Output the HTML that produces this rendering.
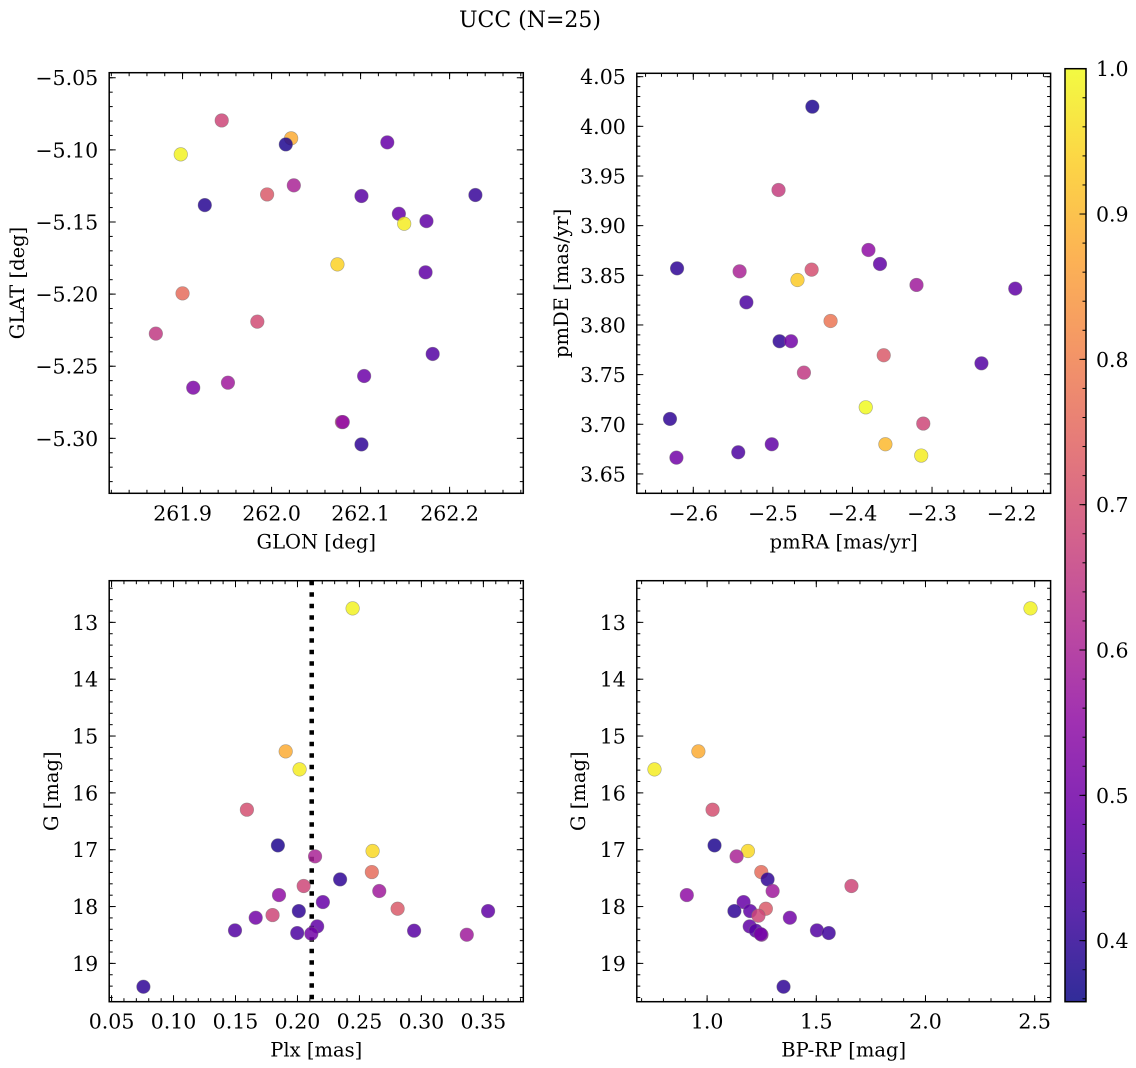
<!DOCTYPE html>
<html><head><meta charset="utf-8"><title>UCC (N=25)</title>
<style>
html,body{margin:0;padding:0;background:#fff;}
svg{display:block;font-family:"DejaVu Serif","Liberation Serif",serif;}
</style></head>
<body>
<svg id="fig" xmlns="http://www.w3.org/2000/svg" width="1136" height="1068" viewBox="0 0 1136 1068">
<rect x="0" y="0" width="1136" height="1068" fill="#fff"/>
<text x="530" y="27" text-anchor="middle" font-size="22">UCC (N=25)</text>
<defs>
<linearGradient id="plasmaGrad" x1="0" y1="1" x2="0" y2="0">
<stop offset="0" stop-color="#0d0887"/><stop offset="0.1" stop-color="#41049d"/><stop offset="0.2" stop-color="#6a00a8"/><stop offset="0.3" stop-color="#8f0da4"/><stop offset="0.4" stop-color="#b12a90"/><stop offset="0.5" stop-color="#cc4778"/><stop offset="0.6" stop-color="#e16462"/><stop offset="0.7" stop-color="#f2844b"/><stop offset="0.8" stop-color="#fca636"/><stop offset="0.9" stop-color="#fcce25"/><stop offset="1" stop-color="#f0f921"/>
</linearGradient>
</defs>
</svg>
<script>
// ---- Panel 1: GLON / GLAT ----
const glon=[261.944,262.022,262.016,261.898,262.130,262.025,261.995,261.925,262.101,262.229,262.143,262.149,262.174,262.074,262.173,261.900,261.984,261.870,262.181,262.104,261.912,261.951,262.079,262.080,262.101];
const glat=[-5.0796,-5.092,-5.0962,-5.1031,-5.0948,-5.1246,-5.1309,-5.1383,-5.132,-5.1313,-5.1443,-5.1512,-5.1494,-5.1794,-5.1849,-5.1995,-5.2191,-5.2274,-5.2415,-5.2568,-5.2649,-5.2614,-5.2887,-5.2887,-5.3042];
const prob1=[0.68,0.88,0.38,0.99,0.48,0.60,0.72,0.39,0.46,0.41,0.48,0.98,0.47,0.94,0.47,0.76,0.69,0.65,0.45,0.49,0.52,0.58,0.67,0.55,0.40];
// ---- Panel 2: pmRA / pmDE ----
const pmra=[-2.4504,-2.4929,-2.3799,-2.3654,-2.6204,-2.5418,-2.4513,-2.4691,-2.3195,-2.1954,-2.5333,-2.4275,-2.4916,-2.4772,-2.3607,-2.4610,-2.2379,-2.3833,-2.6293,-2.3110,-2.5014,-2.3586,-2.5435,-2.6212,-2.3136];
const pmde=[4.0198,3.9359,3.8755,3.8614,3.8570,3.8540,3.8557,3.8453,3.8403,3.8366,3.8228,3.8040,3.7836,3.7836,3.7695,3.7520,3.7614,3.7171,3.7054,3.7007,3.6799,3.6799,3.6718,3.6664,3.6685];
const prob2=[0.38,0.66,0.55,0.47,0.40,0.60,0.70,0.93,0.58,0.47,0.44,0.78,0.40,0.50,0.72,0.65,0.45,1.00,0.40,0.68,0.47,0.90,0.44,0.50,0.98];
// ---- Panel 3: Plx / G ----
const plx=[0.2445,0.1905,0.2017,0.1592,0.1842,0.2606,0.2142,0.2600,0.2344,0.2050,0.2660,0.1851,0.2205,0.2808,0.2011,0.3538,0.1799,0.1663,0.2159,0.1496,0.2941,0.1998,0.2112,0.3366,0.0757];
const gmag3=[12.754,15.270,15.587,16.296,16.924,17.023,17.117,17.393,17.522,17.639,17.727,17.798,17.921,18.038,18.079,18.079,18.150,18.197,18.349,18.419,18.425,18.466,18.478,18.496,19.411];
const prob3=[0.99,0.88,0.98,0.70,0.38,0.95,0.60,0.76,0.40,0.68,0.58,0.55,0.48,0.72,0.40,0.47,0.68,0.50,0.47,0.45,0.46,0.44,0.50,0.58,0.40];
const plxMean=[0.2115];
// ---- Panel 4: BP-RP / G ----
const bprp=[2.481,0.960,0.759,1.025,1.034,1.187,1.135,1.248,1.277,1.661,1.300,0.907,1.167,1.269,1.125,1.197,1.235,1.379,1.195,1.503,1.557,1.223,1.249,1.245,1.350];
const gmag4=[12.754,15.270,15.587,16.296,16.924,17.023,17.117,17.393,17.522,17.639,17.727,17.798,17.921,18.038,18.079,18.079,18.161,18.197,18.349,18.419,18.466,18.425,18.496,18.484,19.411];
const prob4=[0.99,0.88,0.98,0.70,0.38,0.95,0.60,0.76,0.40,0.68,0.58,0.55,0.48,0.72,0.40,0.47,0.68,0.50,0.47,0.45,0.42,0.45,0.55,0.50,0.40];
// ---- Colorbar ----
const cbTicks=[0.4,0.5,0.6,0.7,0.8,0.9,1.0];
const cbRange=[0.358,1.0];

const NS="http://www.w3.org/2000/svg";
const svg=document.getElementById('fig');
const plasma=["#0d0887","#41049d","#6a00a8","#8f0da4","#b12a90","#cc4778","#e16462","#f2844b","#fca636","#fcce25","#f0f921"];
function hex(h){return [parseInt(h.slice(1,3),16),parseInt(h.slice(3,5),16),parseInt(h.slice(5,7),16)];}
function cmap(p){
  let t=(p-cbRange[0])/(cbRange[1]-cbRange[0]);t=Math.max(0,Math.min(1,t));
  const f=t*10,i=Math.min(9,Math.floor(f)),r=f-i;
  const a=hex(plasma[i]),b=hex(plasma[i+1]);
  return 'rgb('+a.map((v,k)=>Math.round(v+(b[k]-v)*r)).join(',')+')';
}
function el(tag,attrs,parent){const e=document.createElementNS(NS,tag);for(const k in attrs)e.setAttribute(k,attrs[k]);(parent||svg).appendChild(e);return e;}
function fmt(v,d){const s=Math.abs(v).toFixed(d);return (v<-1e-9?'\u2212':'')+s;}
function ticks(lo,hi,step){const out=[];const a=Math.ceil(lo/step-1e-6),b=Math.floor(hi/step+1e-6);for(let k=a;k<=b;k++)out.push(+(k*step).toFixed(6));return out;}

const TFS=20.5, LFS=19.5;
function panel(o){
  const g=el('g',{});
  
  
  const B=o.box;
  const sx=v=>B.x+(v-o.xr[0])/(o.xr[1]-o.xr[0])*B.w;
  const sy=v=>B.y+(o.yr[1]-v)/(o.yr[1]-o.yr[0])*B.h;
  const tg=el('g',{stroke:'#000','stroke-width':1},g);
  
  
  ticks(o.xr[0],o.xr[1],o.xMin).forEach(v=>{const x=sx(v);el('line',{x1:x,x2:x,y1:B.y+B.h,y2:B.y+B.h-3.5},tg);el('line',{x1:x,x2:x,y1:B.y,y2:B.y+3.5},tg);});
  ticks(Math.min(o.yr[0],o.yr[1]),Math.max(o.yr[0],o.yr[1]),o.yMin).forEach(v=>{const y=sy(v);el('line',{x1:B.x,x2:B.x+3.5,y1:y,y2:y},tg);el('line',{x1:B.x+B.w,x2:B.x+B.w-3.5,y1:y,y2:y},tg);});
  ticks(o.xr[0],o.xr[1],o.xMaj).forEach(v=>{const x=sx(v);el('line',{x1:x,x2:x,y1:B.y+B.h,y2:B.y+B.h-6.5},tg);el('line',{x1:x,x2:x,y1:B.y,y2:B.y+6.5},tg);
    const t=el('text',{x:x,y:B.y+B.h+27,'text-anchor':'middle','font-size':TFS,stroke:'none'},g);t.textContent=fmt(v,o.xd);
    
    });
  ticks(Math.min(o.yr[0],o.yr[1]),Math.max(o.yr[0],o.yr[1]),o.yMaj).forEach(v=>{const y=sy(v);el('line',{x1:B.x,x2:B.x+6.5,y1:y,y2:y},tg);el('line',{x1:B.x+B.w,x2:B.x+B.w-6.5,y1:y,y2:y},tg);
    const t=el('text',{x:B.x-11,y:y+7.5,'text-anchor':'end','font-size':TFS},g);t.textContent=fmt(v,o.yd);
    
    });
  if(o.vline){o.vline.forEach(v=>{const l=el('line',{x1:sx(v),x2:sx(v),y1:B.y,y2:B.y+B.h,stroke:'#000','stroke-width':4.5,'stroke-dasharray':'4.5 7'},g);
    
    });}
  o.xs.forEach((xv,i)=>{const c=el('circle',{cx:sx(xv),cy:sy(o.ys[i]),r:6.8,fill:cmap(o.ps[i]),'fill-opacity':0.85,stroke:'#777','stroke-opacity':0.6,'stroke-width':0.6},g);
    
    });
  const fr=el('rect',{x:B.x,y:B.y,width:B.w,height:B.h,fill:'none',stroke:'#000','stroke-width':1.5},g);
  
  
  const xl=el('text',{x:B.x+B.w/2,y:B.y+B.h+55,'text-anchor':'middle','font-size':LFS},g);xl.textContent=o.xlabel;
  
  
  const cy=B.y+B.h/2;
  const yl=el('text',{x:o.ylx,y:cy,'text-anchor':'middle','font-size':LFS,transform:'rotate(-90 '+o.ylx+' '+cy+')'},g);yl.textContent=o.ylabel;
  
  
}

panel({name:'glon-glat-panel',box:{x:109.2,y:72.7,w:414.1,h:420.6},xr:[261.8176,262.2828],yr:[-5.3381,-5.0465],xMaj:0.1,xMin:0.02,yMaj:0.05,yMin:0.01,xd:1,yd:2,xs:glon,ys:glat,ps:prob1,xlabel:'GLON [deg]',ylabel:'GLAT [deg]',ylx:24});
panel({name:'pm-panel',box:{x:636.8,y:73.3,w:413.8,h:420},xr:[-2.671,-2.151],yr:[3.6305,4.0534],xMaj:0.1,xMin:0.02,yMaj:0.05,yMin:0.01,xd:1,yd:2,xs:pmra,ys:pmde,ps:prob2,xlabel:'pmRA [mas/yr]',ylabel:'pmDE [mas/yr]',ylx:568});
panel({name:'plx-g-panel',box:{x:109.2,y:580.7,w:414.1,h:421},xr:[0.0481,0.3822],yr:[19.674,12.267],xMaj:0.05,xMin:0.01,yMaj:1,yMin:0.2,xd:2,yd:0,xs:plx,ys:gmag3,ps:prob3,vline:plxMean,xlabel:'Plx [mas]',ylabel:'G [mag]',ylx:58});
panel({name:'cmd-panel',box:{x:636.8,y:580.7,w:413.8,h:421},xr:[0.678,2.573],yr:[19.674,12.267],xMaj:0.5,xMin:0.1,yMaj:1,yMin:0.2,xd:1,yd:0,xs:bprp,ys:gmag4,ps:prob4,xlabel:'BP-RP [mag]',ylabel:'G [mag]',ylx:585});

(function(){
  const cb={x:1065,y:68.7,w:21,h:933};
  const g=el('g',{});
  
  
  el('rect',{x:cb.x,y:cb.y,width:cb.w,height:cb.h,fill:'url(#plasmaGrad)','fill-opacity':0.85},g);
  const sy=v=>cb.y+(cbRange[1]-v)/(cbRange[1]-cbRange[0])*cb.h;
  ticks(cbRange[0],cbRange[1],0.02).forEach(v=>{const y=sy(v);el('line',{x1:cb.x+cb.w,x2:cb.x+cb.w-3.5,y1:y,y2:y,stroke:'#000','stroke-width':1},g);});
  cbTicks.forEach(v=>{const y=sy(v);el('line',{x1:cb.x+cb.w,x2:cb.x+cb.w-6.5,y1:y,y2:y,stroke:'#000','stroke-width':1},g);
    const t=el('text',{x:cb.x+cb.w+10,y:y+7.5,'font-size':TFS},g);t.textContent=v.toFixed(1);
    
    });
  el('rect',{x:cb.x,y:cb.y,width:cb.w,height:cb.h,fill:'none',stroke:'#000','stroke-width':1.5},g);
})();
</script>
</body></html>
